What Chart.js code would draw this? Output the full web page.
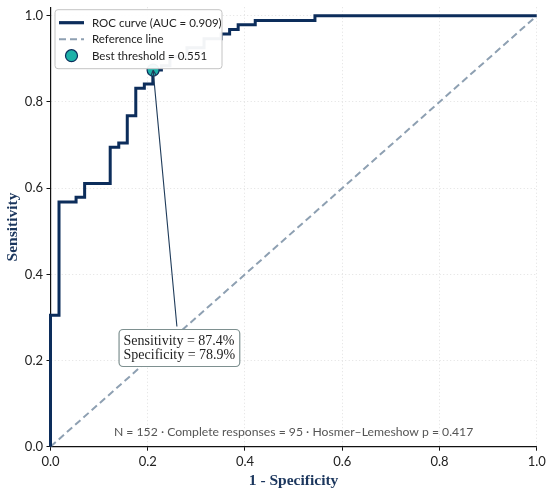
<!DOCTYPE html>
<html>
<head>
<meta charset="utf-8">
<script src="https://cdn.jsdelivr.net/npm/chart.js@4.4.1/dist/chart.umd.min.js"></script>
<style>
  html, body { margin: 0; padding: 0; background: #fff; }
</style>
</head>
<body>
<canvas id="rocChart" width="550" height="494"></canvas>
<script>
// ROC step corners (1 - specificity, sensitivity)
const fpr = [0, 0, 0.0175, 0.0526, 0.0702, 0.1228, 0.1404, 0.1579, 0.1754, 0.1930, 0.2105,
             0.2281, 0.2456, 0.2807, 0.3158, 0.3509, 0.3684, 0.3860, 0.4211, 0.5439, 1.0];
const tpr = [0, 0.305, 0.568, 0.579, 0.611, 0.695, 0.705, 0.768, 0.832, 0.842, 0.874,
             0.884, 0.905, 0.926, 0.947, 0.958, 0.968, 0.979, 0.989, 1.0, 1.0];
const refX = [0, 1];
const refY = [0, 1];
const bestFpr = [0.211];
const bestTpr = [0.874];
const xTicks = [0, 0.2, 0.4, 0.6, 0.8, 1.0];
const yTicks = [0, 0.2, 0.4, 0.6, 0.8, 1.0];
const legendLabels = ['ROC curve (AUC = 0.909)', 'Reference line', 'Best threshold = 0.551'];
const noteLines = ['Sensitivity = 87.4%', 'Specificity = 78.9%'];
const noteAt = [0.141, 0.272];   // top-left of the note box, data coords
const arrowFrom = [0.260, 0.279];
const footnote = 'N = 152 \u00b7 Complete responses = 95 \u00b7 Hosmer\u2013Lemeshow p = 0.417';

const NAVY = '#0c2d5b';
const REF = '#8ea0b2';
const TEAL = '#1db1a9';
const TITLE = '#1b365d';

Chart.defaults.font.family = 'Lato';
Chart.defaults.color = '#222';

const toPts = (xs, ys) => xs.map((x, i) => ({ x: x, y: ys[i] }));

const overlay = {
    id: 'overlay',
    afterDatasetsDraw(chart) {
        const { ctx, chartArea: a, scales: { x, y } } = chart;

        // arrow from the note box to the best threshold
        const x0 = x.getPixelForValue(arrowFrom[0]), y0 = y.getPixelForValue(arrowFrom[1]);
        const x1 = x.getPixelForValue(bestFpr[0]), y1 = y.getPixelForValue(bestTpr[0]);
        ctx.save();
        ctx.strokeStyle = '#1f3b5a';
        ctx.lineWidth = 1.1;
        ctx.beginPath();
        ctx.moveTo(x0, y0);
        ctx.lineTo(x1, y1);
        const ang = Math.atan2(y1 - y0, x1 - x0);
        for (const s of [-1, 1]) {
            ctx.moveTo(x1, y1);
            ctx.lineTo(x1 - 6 * Math.cos(ang + s * 0.45), y1 - 6 * Math.sin(ang + s * 0.45));
        }
        ctx.stroke();
        ctx.restore();

        // legend
        const lx = a.left + 4.5, ly = a.top + 2.5, lw = 167, lh = 59;
        ctx.save();
        ctx.fillStyle = 'rgba(255,255,255,0.95)';
        ctx.strokeStyle = '#c4c4c4';
        ctx.lineWidth = 1;
        ctx.beginPath();
        ctx.roundRect(lx, ly, lw, lh, 3);
        ctx.fill();
        ctx.stroke();
        ctx.font = '11.5px Lato';
        ctx.fillStyle = '#222';
        ctx.textBaseline = 'middle';
        legendLabels.forEach((t, i) => {
            const cy = ly + 13 + i * 16.5;
            ctx.save();
            if (i === 0) {
                ctx.strokeStyle = NAVY; ctx.lineWidth = 3.2;
                ctx.beginPath(); ctx.moveTo(lx + 4, cy); ctx.lineTo(lx + 29, cy); ctx.stroke();
            } else if (i === 1) {
                ctx.strokeStyle = REF; ctx.lineWidth = 2; ctx.setLineDash([7, 4]);
                ctx.beginPath(); ctx.moveTo(lx + 4, cy); ctx.lineTo(lx + 29, cy); ctx.stroke();
            } else {
                ctx.fillStyle = TEAL; ctx.strokeStyle = NAVY; ctx.lineWidth = 1.2;
                ctx.beginPath(); ctx.arc(lx + 16.5, cy, 6, 0, Math.PI * 2); ctx.fill(); ctx.stroke();
            }
            ctx.restore();
            ctx.fillText(t, lx + 37, cy + 0.5);
        });
        ctx.restore();

        // note box
        ctx.save();
        ctx.font = '14px "Liberation Serif"';
        const tw = Math.max(...noteLines.map(t => ctx.measureText(t).width));
        const bx = x.getPixelForValue(noteAt[0]), by = y.getPixelForValue(noteAt[1]);
        ctx.fillStyle = '#fff';
        ctx.strokeStyle = '#7e9090';
        ctx.lineWidth = 1.2;
        ctx.beginPath();
        ctx.roundRect(bx, by, tw + 9, 37, 4);
        ctx.fill();
        ctx.stroke();
        ctx.fillStyle = '#222';
        ctx.textBaseline = 'middle';
        noteLines.forEach((t, i) => ctx.fillText(t, bx + 4.5, by + 11.5 + i * 14));
        ctx.restore();

        // footnote
        ctx.save();
        ctx.font = '12.2px Lato';
        ctx.fillStyle = '#555';
        ctx.textAlign = 'center';
        ctx.textBaseline = 'middle';
        ctx.fillText(footnote, (a.left + a.right) / 2, y.getPixelForValue(0.035));
        ctx.restore();
    }
};

const axis = (ticks, title, pos) => ({
    type: 'linear',
    position: pos,
    min: 0,
    max: pos === 'left' ? 1.02 : 1.0,
    afterBuildTicks: s => { s.ticks = ticks.map(v => ({ value: v })); },
    afterFit: s => {
        if (pos === 'left') { s.width = 50.5; s.paddingTop = 0; s.paddingBottom = 0; }
        else { s.height = 47.3; s.paddingLeft = 0; s.paddingRight = 0; }
    },
    ticks: { callback: v => v.toFixed(1), font: { size: 13 }, color: '#222', padding: 3.5, maxRotation: 0 },
    grid: { color: '#d9d9d9', lineWidth: 0.8, tickLength: 4, tickColor: '#111', tickWidth: 1 },
    border: { color: '#111', width: 1.2, dash: [1, 2.5] },
    title: {
        display: true, text: title, color: TITLE,
        font: { family: 'Liberation Serif', size: 15.5, weight: 'bold' },
        padding: { top: 4, bottom: 3.5 }
    }
});

new Chart(document.getElementById('rocChart'), {
    type: 'line',
    data: {
        datasets: [
            {
                label: legendLabels[2], type: 'scatter', data: toPts(bestFpr, bestTpr),
                pointRadius: 6, pointBackgroundColor: TEAL, pointBorderColor: NAVY,
                pointBorderWidth: 1.2, clip: false
            },
            {
                label: legendLabels[0], data: toPts(fpr, tpr), stepped: 'before',
                borderColor: NAVY, borderWidth: 3, pointRadius: 0, fill: false, clip: false
            },
            {
                label: legendLabels[1], data: toPts(refX, refY), borderColor: REF,
                borderWidth: 2, borderDash: [7, 4], pointRadius: 0, fill: false
            }
        ]
    },
    options: {
        responsive: false,
        animation: false,
        layout: { padding: { top: 5.5, right: 13.3, left: 0, bottom: 0 } },
        plugins: { legend: { display: false }, tooltip: { enabled: false } },
        scales: {
            x: axis(xTicks, '1 - Specificity', 'bottom'),
            y: axis(yTicks, 'Sensitivity', 'left')
        }
    },
    plugins: [overlay]
});
</script>
</body>
</html>
